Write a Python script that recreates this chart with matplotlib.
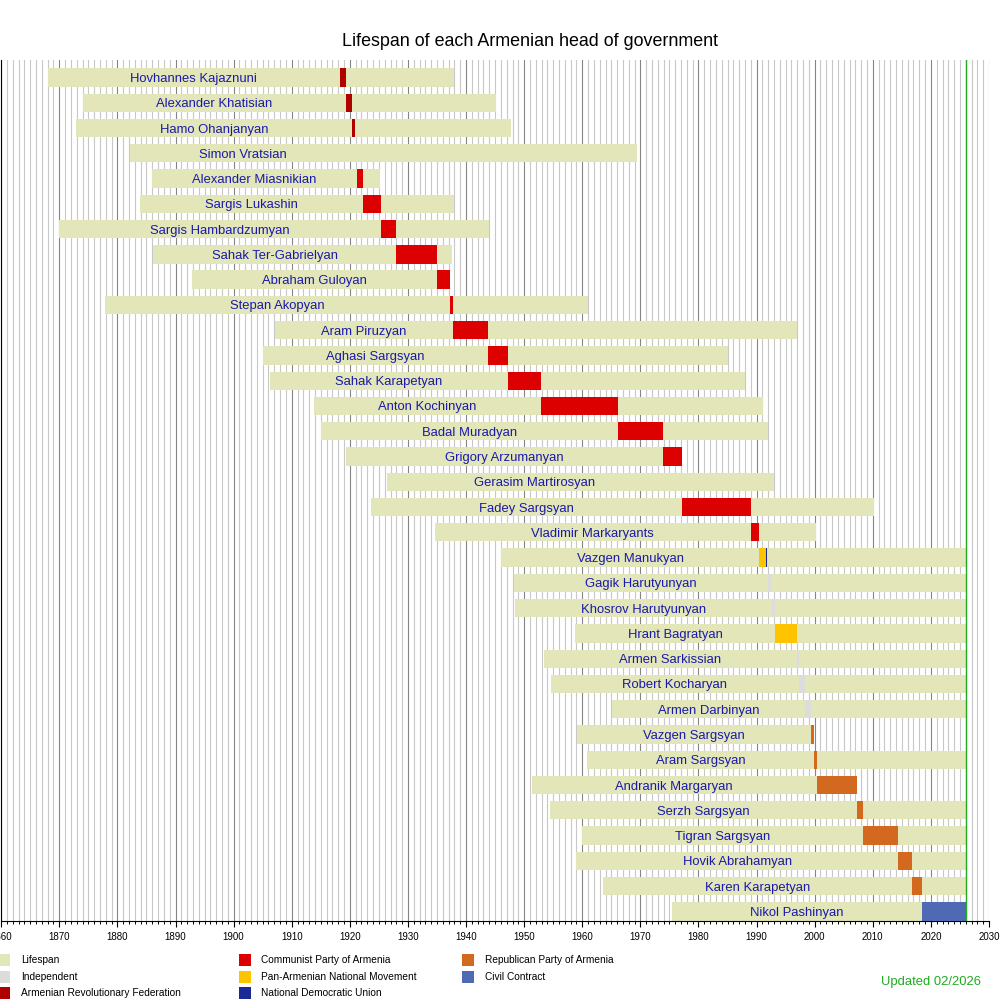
#!/usr/bin/env python3
"""Lifespan / term chart of Armenian heads of government."""

import matplotlib

matplotlib.use("Agg")
import matplotlib.pyplot as plt
from matplotlib.patches import Rectangle
from matplotlib.ticker import MultipleLocator

NOW = 2026.1

NAMES = [
    "Hovhannes Kajaznuni", "Alexander Khatisian", "Hamo Ohanjanyan", "Simon Vratsian",
    "Alexander Miasnikian", "Sargis Lukashin", "Sargis Hambardzumyan", "Sahak Ter-Gabrielyan",
    "Abraham Guloyan", "Stepan Akopyan", "Aram Piruzyan", "Aghasi Sargsyan",
    "Sahak Karapetyan", "Anton Kochinyan", "Badal Muradyan", "Grigory Arzumanyan",
    "Gerasim Martirosyan", "Fadey Sargsyan", "Vladimir Markaryants", "Vazgen Manukyan",
    "Gagik Harutyunyan", "Khosrov Harutyunyan", "Hrant Bagratyan", "Armen Sarkissian",
    "Robert Kocharyan", "Armen Darbinyan", "Vazgen Sargsyan", "Aram Sargsyan",
    "Andranik Margaryan", "Serzh Sargsyan", "Tigran Sargsyan", "Hovik Abrahamyan",
    "Karen Karapetyan", "Nikol Pashinyan",
]
BORN = [
    1868.0, 1874.0, 1872.9, 1882.2, 1886.0, 1883.9, 1869.9, 1886.1, 1892.9, 1877.9,
    1907.1, 1905.0, 1906.3, 1913.8, 1915.0, 1919.3, 1926.4, 1923.6, 1934.6, 1946.1,
    1948.2, 1948.4, 1958.7, 1953.4, 1954.6, 1965.1, 1959.1, 1960.9, 1951.3, 1954.4,
    1960.0, 1959.0, 1963.6, 1975.4,
]
# None = still alive
DIED = [
    1937.95, 1945.1, 1947.7, 1969.4, 1925.2, 1937.95, 1943.9, 1937.6, 1937.2, 1960.95,
    1996.9, 1985.0, 1988.0, 1991.1, 1992.0, 1977.1, 1993.0, 2010.2, 2000.3, None,
    None, None, None, None, None, None, 1999.8, None, 2007.3, None,
    None, None, None, None,
]

# terms in office: row index, start, end, party
TERM_ROW = [
    0, 1, 2, 3, 4, 5, 6, 7, 8, 9, 10, 11, 12, 13, 14, 15, 16, 17, 18, 19, 19,
    20, 21, 22, 23, 24, 25, 26, 27, 28, 29, 30, 31, 32, 33,
]
TERM_START = [
    1918.3, 1919.3, 1920.4, 1920.9, 1921.2, 1922.2, 1925.3, 1928.0, 1935.0, 1937.2,
    1937.7, 1943.75, 1947.2, 1952.9, 1966.1, 1973.9, 1977.1, 1977.1, 1989.0, 1990.5,
    1991.7, 1991.9, 1992.6, 1993.2, 1996.9, 1997.3, 1998.3, 1999.45, 1999.8, 2000.35,
    2007.3, 2008.3, 2014.3, 2016.7, 2018.4,
]
TERM_END = [
    1919.3, 1920.3, 1920.9, 1920.95, 1922.2, 1925.3, 1928.0, 1935.0, 1937.2, 1937.7,
    1943.75, 1947.2, 1952.9, 1966.1, 1973.9, 1977.1, 1977.1, 1989.0, 1990.5, 1991.6,
    1991.85, 1992.5, 1993.2, 1996.95, 1997.3, 1998.25, 1999.4, 1999.8, 2000.35, 2007.3,
    2008.3, 2014.3, 2016.7, 2018.4, NOW,
]
TERM_PARTY = [
    "ARF", "ARF", "ARF", "ARF", "CPA", "CPA", "CPA", "CPA", "CPA", "CPA",
    "CPA", "CPA", "CPA", "CPA", "CPA", "CPA", "CPA", "CPA", "CPA", "PANM",
    "NDU", "IND", "IND", "PANM", "IND", "IND", "IND", "RPA", "RPA", "RPA",
    "RPA", "RPA", "RPA", "RPA", "CC",
]

PARTY_COLORS = {
    "LIFE": "#e2e6b9",
    "IND": "#dcdcdc",
    "ARF": "#b00000",
    "CPA": "#dd0000",
    "PANM": "#ffc400",
    "NDU": "#1c2896",
    "RPA": "#d2691e",
    "CC": "#4f69b4",
}
LEGEND_KEYS = ["LIFE", "IND", "ARF", "CPA", "PANM", "NDU", "RPA", "CC"]
LEGEND_LABELS = [
    "Lifespan", "Independent", "Armenian Revolutionary Federation",
    "Communist Party of Armenia", "Pan-Armenian National Movement", "National Democratic Union",
    "Republican Party of Armenia", "Civil Contract",
]

BAR_H = 0.725
NAME_COLOR = "#1a1aaa"

plt.rcParams.update(
    {
        "font.family": ["Liberation Sans", "DejaVu Sans"],
        "axes.linewidth": 0.8,
    }
)

fig = plt.figure(figsize=(10, 10), dpi=100)
ax = fig.add_axes([0.0012, 0.0795, 0.9878, 0.8605])

n = len(NAMES)
ends = [d if d is not None else NOW for d in DIED]
ax.barh(
    range(n),
    [e - b for b, e in zip(BORN, ends)],
    left=BORN,
    height=BAR_H,
    align="edge",
    color=PARTY_COLORS["LIFE"],
    linewidth=0,
    zorder=2,
)
ax.barh(
    TERM_ROW,
    [e - s for s, e in zip(TERM_START, TERM_END)],
    left=TERM_START,
    height=BAR_H,
    align="edge",
    color=[PARTY_COLORS[p] for p in TERM_PARTY],
    linewidth=0,
    zorder=3,
)

# name centred between birth and the first term in office
first_term = {}
for row, start in zip(TERM_ROW, TERM_START):
    first_term.setdefault(row, start)
for i, name in enumerate(NAMES):
    ax.text(
        (BORN[i] + first_term[i]) / 2,
        i + BAR_H / 2,
        name,
        ha="center",
        va="center_baseline",
        fontsize=9.4,
        color=NAME_COLOR,
        zorder=4,
    )

ax.axvline(NOW, color="#22aa22", linewidth=1.0, zorder=5)

ax.set_xlim(1860, 2030)
ax.set_ylim(33 + BAR_H, -0.33)
ax.set_yticks([])
ax.xaxis.set_major_locator(MultipleLocator(10))
ax.xaxis.set_minor_locator(MultipleLocator(1))
ax.grid(True, axis="x", which="minor", color="#c8c8c8", linewidth=0.8)
ax.grid(True, axis="x", which="major", color="#858585", linewidth=0.8)
ax.set_axisbelow(True)
ax.tick_params(axis="x", which="major", length=4, width=0.8, labelsize=7, pad=4)
ax.tick_params(axis="x", which="minor", length=2.2, width=0.7)
ax.spines["top"].set_visible(False)
ax.spines["right"].set_visible(False)

fig.text(0.53, 0.9585, "Lifespan of each Armenian head of government",
         ha="center", va="center", fontsize=12.9)

# legend laid out by hand in three columns
col_x = [-0.002, 0.2387, 0.462]
row_y = [0.040, 0.0233, 0.0067]
for k, (key, label) in enumerate(zip(LEGEND_KEYS, LEGEND_LABELS)):
    c, r = divmod(k, 3)
    fig.patches.append(
        Rectangle((col_x[c], row_y[r] - 0.006), 0.012, 0.012,
                  transform=fig.transFigure, color=PARTY_COLORS[key], linewidth=0)
    )
    fig.text(col_x[c] + 0.0227, row_y[r], label, ha="left", va="center", fontsize=7.3)

fig.text(0.9807, 0.0183, "Updated 02/2026", ha="right", va="center",
         fontsize=9.4, color="#22aa22")

fig.savefig("out.png", dpi=100)
